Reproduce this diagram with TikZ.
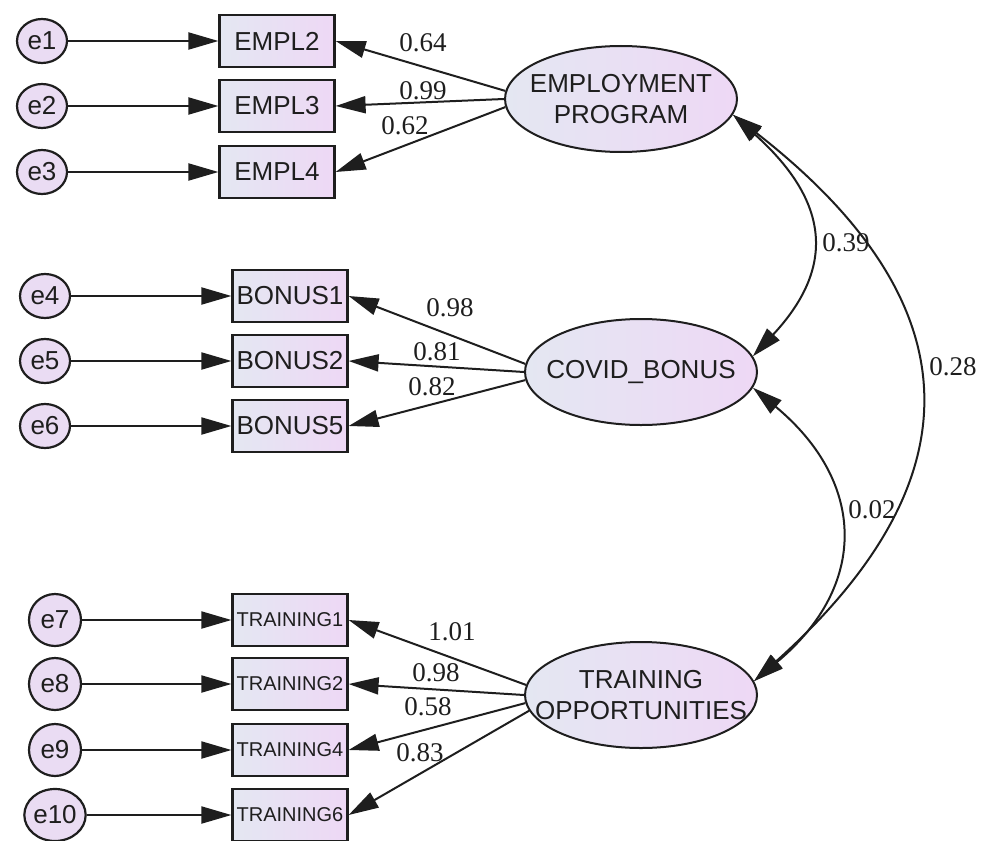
\documentclass[tikz,border=0pt]{standalone}
\usepackage{fontspec}
\setmainfont{Liberation Serif}
\setsansfont{Liberation Sans}
\usetikzlibrary{arrows.meta,shapes.geometric}
\definecolor{fillL}{RGB}{228,231,242}
\definecolor{fillR}{RGB}{238,216,245}
\definecolor{errfill}{RGB}{234,220,243}
\definecolor{ink}{RGB}{30,30,30}
\begin{document}
\begin{tikzpicture}[x=1pt,y=-1pt,
	obs/.style={draw=ink,line width=2.2pt,left color=fillL,right color=fillR,minimum width=115pt,minimum height=52pt,inner sep=0pt,font=\sffamily\fontsize{26}{30}\selectfont,text=ink},
	obssmall/.style={obs,font=\sffamily\fontsize{20}{24}\selectfont},
	lat/.style={ellipse,draw=ink,line width=2pt,left color=fillL,right color=fillR,minimum width=232pt,minimum height=106pt,inner sep=0pt},
	lattext/.style={align=center,inner sep=0pt,font=\sffamily\fontsize{26}{31}\selectfont,text=ink},
	err/.style={ellipse,draw=ink,line width=2.2pt,fill=errfill,minimum width=50pt,minimum height=44pt,inner sep=0pt,font=\sffamily\fontsize{26}{30}\selectfont,text=ink},
	errround/.style={err,minimum width=52pt,minimum height=52pt},
	coef/.style={font=\fontsize{27}{30}\selectfont,text=ink,inner sep=0pt},
	lnk/.style={draw=ink,line width=2pt,-{Triangle[length=30pt,width=17pt]}},
	cov/.style={draw=ink,line width=2pt,{Triangle[length=30pt,width=17pt]}-{Triangle[length=30pt,width=17pt]}}]
						\useasboundingbox (0,0) rectangle (987,840);
						\node[err] (e1) at (42,41) {e1};
						\node[err] (e2) at (42,106) {e2};
						\node[err] (e3) at (42,172) {e3};
						\node[err] (e4) at (45,296) {e4};
						\node[err] (e5) at (45,361) {e5};
						\node[err] (e6) at (45,426) {e6};
						\node[errround] (e7) at (55,620) {e7};
						\node[errround] (e8) at (55,684) {e8};
						\node[errround] (e9) at (55,750) {e9};
						\node[errround] (e10) at (55,815) {e10};
						
						\node[obs] (empl2) at (277,41) {EMPL2};
						\node[obs] (empl3) at (277,106) {EMPL3};
						\node[obs] (empl4) at (277,172) {EMPL4};
						\node[obs] (bonus1) at (290,296) {BONUS1};
						\node[obs] (bonus2) at (290,361) {BONUS2};
						\node[obs] (bonus5) at (290,426) {BONUS5};
						\node[obssmall] (train1) at (290,620) {TRAINING1};
						\node[obssmall] (train2) at (290,684) {TRAINING2};
						\node[obssmall] (train4) at (290,750) {TRAINING4};
						\node[obssmall] (train6) at (290,815) {TRAINING6};
						
						\node[lat,label={[lattext]center:EMPLOYMENT\\PROGRAM}] (emp) at (621,99) {};
						\node[lat,label={[lattext]center:COVID\_BONUS}] (cov) at (641,372) {};
						\node[lat,label={[lattext]center:TRAINING\\OPPORTUNITIES}] (trn) at (641,695) {};
						
						\draw[lnk] (e1) -- (empl2);
						\draw[lnk] (e2) -- (empl3);
						\draw[lnk] (e3) -- (empl4);
						\draw[lnk] (e4) -- (bonus1);
						\draw[lnk] (e5) -- (bonus2);
						\draw[lnk] (e6) -- (bonus5);
						\draw[lnk] (e7) -- (train1);
						\draw[lnk] (e8) -- (train2);
						\draw[lnk] (e9) -- (train4);
						\draw[lnk] (e10) -- (train6);
						
						\draw[lnk] (emp.176) -- (empl2.east);
						\draw[lnk] (emp.180) -- (empl3.east);
						\draw[lnk] (emp.184) -- (empl4.east);
						\draw[lnk] (cov.176) -- (bonus1.east);
						\draw[lnk] (cov.180) -- (bonus2.east);
						\draw[lnk] (cov.184) -- (bonus5.east);
						\draw[lnk] (trn.175) -- (train1.east);
						\draw[lnk] (trn.180) -- (train2.east);
						\draw[lnk] (trn.184) -- (train4.east);
						\draw[lnk] (trn.188) -- (train6.east);
						
						\draw[cov] (emp.-8) .. controls +(98,88) and +(82,-88) .. (cov.8);
						\draw[cov] (cov.-8) .. controls +(114,95) and +(114,-95) .. (trn.7);
						\draw[cov] (emp.-8) .. controls +(244,190) and +(223,-200) .. (trn.7);
						
						\node[coef] (l1) at (423,43) {0.64};
						\node[coef] (l2) at (423,91) {0.99};
						\node[coef] (l3) at (405,126) {0.62};
						\node[coef] (l4) at (450,308) {0.98};
						\node[coef] (l5) at (437,352) {0.81};
						\node[coef] (l6) at (432,387) {0.82};
						\node[coef] (l7) at (452,632) {1.01};
						\node[coef] (l8) at (436,673) {0.98};
						\node[coef] (l9) at (428,707) {0.58};
						\node[coef] (l10) at (420,753) {0.83};
						\node[coef] (r1) at (846,243) {0.39};
						\node[coef] (r2) at (872,510) {0.02};
						\node[coef] (r3) at (953,367) {0.28};
					\end{tikzpicture}
\end{document}
